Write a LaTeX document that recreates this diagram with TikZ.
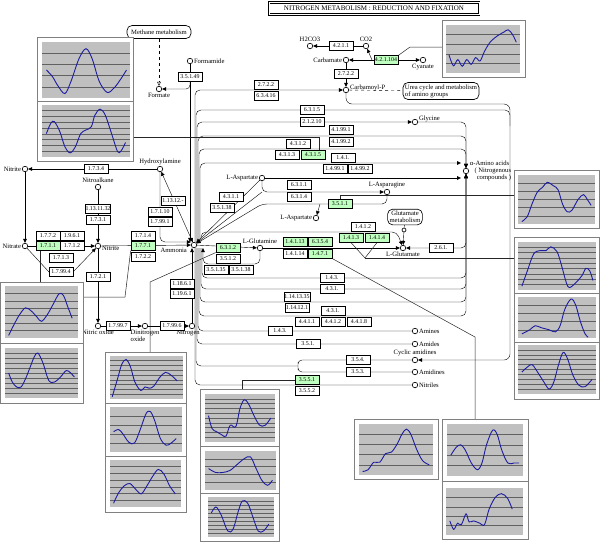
\documentclass[tikz,border=0pt]{standalone}
\usepackage{fontspec}
\setmainfont{Liberation Serif}
\usetikzlibrary{arrows, arrows.meta, shapes, positioning, backgrounds}

\definecolor{keggreen}{HTML}{BFFFBF}
\definecolor{chartgray}{HTML}{C0C0C0}
\definecolor{curveblue}{HTML}{1C1CA0}
\newcommand{\ecfont}{\fontsize{5.9}{6.3}\selectfont}
\newcommand{\cpdfont}{\fontsize{6.6}{7}\selectfont}

% chart panel: x0, y0, x1, y1, grid lines, curve points (0..1, top to bottom)
\newcommand{\chart}[6]{%
  \begin{scope}[shift={(#1,#2)},xscale=#3-#1,yscale=#4-#2]
    \fill[chartgray] (0,0) rectangle (1,1);
    \foreach \k in {1,...,#5} \draw[grid line] (0,{\k/(#5+1)}) -- (1,{\k/(#5+1)});
    \draw[curve line] plot[smooth,tension=0.55] coordinates {#6};
  \end{scope}}

\begin{document}
\begin{tikzpicture}[x=1pt,y=-1pt,>={Triangle[length=4pt,width=3.6pt]},line width=0.65pt,
  cpd node/.style={circle,draw,fill=white,inner sep=0pt,minimum size=5.5pt},
  ec node/.style={rectangle,draw,fill=white,inner sep=0.3pt,minimum width=24pt,minimum height=8.5pt,font=\ecfont},
  ecg node/.style={ec node,fill=keggreen},
  lab/.style={font=\cpdfont,inner sep=0.6pt},
  map node/.style={rectangle,rounded corners=5pt,draw,fill=white,font=\cpdfont,inner sep=2pt},
  thumb frame/.style={draw=black!50,fill=white,line width=0.9pt},
  grid line/.style={black!62,line width=0.6pt},
  curve line/.style={curveblue,line width=0.9pt},
  thumb link/.style={black!85,line width=0.5pt},
  every label/.style={lab}]
\useasboundingbox (0,0) rectangle (600,542);

\node[draw,double,double distance=1pt,line width=0.6pt,font=\fontsize{7}{8}\selectfont,inner sep=1.5pt,minimum width=210pt,minimum height=12pt] (title) at (374,8.5) {NITROGEN METABOLISM : REDUCTION AND FIXATION};

% maps
\node[map node,minimum width=64pt,minimum height=13pt] (methane) at (159,32) {Methane metabolism};
\node[map node,align=left] (urea) at (441,91) {Urea cycle and metabolism\\of amino groups};
\node[map node,align=center] (glumap) at (405,217) {Glutamate\\metabolism};

% compounds
\node[cpd node] (formamide) at (190,61) [label=right:Formamide] {};
\node[cpd node] (formate) at (159,89) [label=below:Formate] {};
\node[cpd node] (hcarb) at (310,46) [label=above:H2CO3] {};
\node[cpd node] (co2) at (366,46) [label=above:CO2] {};
\node[cpd node] (carbamate) at (346,60) [label=left:Carbamate] {};
\node[cpd node] (cyanate) at (423,60) [label=below:Cyanate] {};
\node[cpd node] (carbp) at (346,90) [label={[yshift=2pt]right:Carbamoyl-P}] {};
\node[cpd node] (glycine) at (415,122) [label={[yshift=3pt]right:Glycine}] {};
\node[cpd node] (aminoacid) at (466,171) {};
\node[lab,anchor=west] (aalab) at (469,163) {α-Amino acids};
\node[lab,anchor=north east,align=right] (nclab) at (512,167) {( Nitrogenous\\compounds )};
\node[cpd node] (aspA) at (262,178) [label=left:L-Aspartate] {};
\node[cpd node] (asparagine) at (387,192) [label=above:L-Asparagine] {};
\node[cpd node] (aspB) at (316,218) [label=left:L-Aspartate] {};
\node[cpd node] (glutamine) at (260,248) [label=above:L-Glutamine] {};
\node[cpd node] (glutamate) at (403,248) [label=below:L-Glutamate] {};
\node[cpd node,minimum size=4pt] (glumet) at (404,230) {};
\node[cpd node] (hydroxylamine) at (160,169) [label=above:Hydroxylamine] {};
\node[cpd node] (nitriteA) at (25,169) [label=left:Nitrite] {};
\node[cpd node] (nitrate) at (25,246) [label=left:Nitrate] {};
\node[cpd node] (nitroalkane) at (98,187) [label=above:Nitroalkane] {};
\node[cpd node] (nitriteB) at (98,246) [label={[yshift=-2pt]right:Nitrite}] {};
\node[cpd node] (ammonia) at (194,245) [label={[xshift=-4pt]below left:Ammonia}] {};
\node[cpd node] (nitricoxide) at (98,326) [label=below:Nitric oxide] {};
\node[cpd node] (n2o) at (145,326) [label={[align=left]below:{Dinitrogen\\oxide}}] {};
\node[cpd node] (nitrogen) at (192,326) [label={[xshift=-4pt]below:Nitrogen}] {};
\node[cpd node] (amines) at (415,331) [label=right:Amines] {};
\node[cpd node] (amides) at (415,344) [label=right:Amides] {};
\node[cpd node] (cyclic) at (415,360) [label=above:Cyclic amidines] {};
\node[cpd node] (amidines) at (415,372) [label=right:Amidines] {};
\node[cpd node] (nitriles) at (415,385) [label=right:Nitriles] {};

% enzymes
\foreach \n/\x/\y/\t in {e35149/190/77/3.5.1.49, e2722a/266/85/2.7.2.2, e63416/266/96/6.3.4.16,
  e4211/341/46/4.2.1.1, e2722b/346/74/2.7.2.2, e6315/312/110/6.3.1.5, e21210/312/122/2.1.2.10,
  e41991/341/130/4.1.99.1, e41992/341/142/4.1.99.2, e4312/298/144/4.3.1.2, e4313/287/155/4.3.1.3,
  e141/343/158/1.4.1., e14991/335/169/1.4.99.1, e14992/360/169/1.4.99.2,
  e4311/231/197/4.3.1.1, e35138a/222/208/3.5.1.38, e6311/299/185/6.3.1.1, e6314/299/197/6.3.1.4,
  e3512/228/259/3.5.1.2, e35135/216/270/3.5.1.35, e35138b/241/270/3.5.1.38,
  e14114/295/254/1.4.1.14, e1412/363/227/1.4.1.2, e261/441/248/2.6.1.,
  e143a/332/278/1.4.3., e431a/332/289/4.3.1., e1141335/297/297/1.14.13.35, e114121/297/308/1.14.12.1,
  e431b/333/311/4.3.1., e4411/307/322/4.4.1.1, e4412/333/322/4.4.1.2, e4418/359/322/4.4.1.8,
  e143b/280/331/1.4.3., e351/308/344/3.5.1., e354/358/360/3.5.4., e353/358/372/3.5.3., e3552/307/391/3.5.5.2,
  e1734/96/169/1.7.3.4, e1131132/98/209/1.13.11.32, e1731/98/220/1.7.3.1,
  e1772/48/236/1.7.7.2, e1961/72/236/1.9.6.1, e1712/72/246/1.7.1.2, e1713/61/258/1.7.1.3,
  e17994/61/272/1.7.99.4, e1721/98/277/1.7.2.1, e17997/118/326/1.7.99.7, e17996/172/326/1.7.99.6,
  e1714/143/236/1.7.1.4, e1722/143/257/1.7.2.2, e11312/173/201/1.13.12.-,
  e17110/160/212/1.7.1.10, e17991/160/222/1.7.99.1, e11861/182/284/1.18.6.1, e11961/182/294/1.19.6.1}
  \node[ec node] (\n) at (\x,\y) {\t};
\foreach \n/\x/\y/\t in {e421104/386/60/4.2.1.104, e4315/313/155/4.3.1.5, e3511/340/204/3.5.1.1,
  e6312/228/248/6.3.1.2, e14113/295/242/1.4.1.13, e6354/320/242/6.3.5.4, e1471/320/254/1.4.7.1,
  e1413/351/238/1.4.1.3, e1414/377/238/1.4.1.4, e1711/48/246/1.7.1.1, e1771/143/246/1.7.7.1,
  e3551/307/380/3.5.5.1}
  \node[ecg node] (\n) at (\x,\y) {\t};

\coordinate (fbr) at (190,82);
\coordinate (co2j) at (372,60);
\coordinate (loopa) at (510,104);
\coordinate (loopb) at (510,110);
\coordinate (loopc) at (510,126);
\coordinate (aajA) at (466,136);
\coordinate (aajB) at (466,149);
\coordinate (aahi) at (461,163);
\coordinate (aalo) at (461,178);
\coordinate (asnj) at (262,192);
\coordinate (asnk) at (262,204);
\coordinate (aspj) at (320,204);
\coordinate (glnj) at (203,264);
\coordinate (gluj) at (397,232);
\coordinate (brk) at (298,366);
\coordinate (vj) at (365,258);
\coordinate (tlthumb) at (133,137);
\coordinate (trthumb) at (442,47);
\coordinate (r1thumb) at (514,195);
\coordinate (r2thumb) at (514,258);
\coordinate (blthumb) at (40,282);
\coordinate (blthumbb) at (83,297);
\coordinate (bmthumb) at (150,352);
\coordinate (bcthumb) at (242,389);
\coordinate (brthumb) at (475,419);

\begin{pgfonlayer}{background}
  % formamide, formate
  \draw[->] (formamide) -- (formamide |- ammonia.north);
  \draw[->,rounded corners=4pt] (fbr) |- (formate);
  \draw[dashed,-{Triangle[open,length=4pt,width=3.6pt]}] (methane) -- (formate);
  % carbamate corner
  \draw[->] (co2) -- (hcarb);
  \draw[<->] (cyanate) -- (carbamate);
  \draw[->] (co2j) -- (co2);
  \draw[->] (carbamate) -- (carbp);
  \draw[dashed] (carbp) -- (urea);
  \draw[->,rounded corners=6pt] (carbp) |- (loopa) |- (cyclic);
  % above ammonia
  \draw[->,rounded corners=5pt] ([xshift=1pt]ammonia.north) |- (carbp);
  \draw[rounded corners=5pt] ([xshift=2pt]ammonia.north) |- (loopb) -- (loopc);
  \draw[->,rounded corners=5pt] ([xshift=3pt]ammonia.north) |- (glycine);
  \draw[->,rounded corners=5pt] (glycine) -| (aminoacid.north);
  \draw[->,rounded corners=5pt] ([xshift=4pt]ammonia.north) |- (aajA) -- (aminoacid.north);
  \draw[->,rounded corners=5pt] ([xshift=5pt]ammonia.north) |- (aajB) -- (aminoacid.north);
  \draw[->,rounded corners=5pt] ([xshift=6pt]ammonia.north) |- (aahi);
  \draw[->] (aspA) -- (aalo);
  % aspartate, asparagine
  \draw[->] (aspA) -- (ammonia);
  \draw[->,rounded corners=5pt] (aspA) |- (asparagine);
  \draw (ammonia) -- (asnj);
  \draw[->,rounded corners=5pt] (asparagine) |- (asnk) -- (ammonia);
  \draw[->] (aspj) -- (aspB);
  % glutamine, glutamate
  \draw[->] (ammonia) -- (glutamine);
  \draw[->,rounded corners=5pt] (glutamine) |- (glnj) -- (glnj |- ammonia.south);
  \draw[->] (glutamine) -- (glutamate);
  \draw[->,rounded corners=5pt] ([xshift=7pt]ammonia.north) |- (gluj) -- (glutamate);
  \draw (glumap) -- (glumet);
  \draw[->] (glumet) -- (glutamate);
  \draw[<->,rounded corners=5pt] (glutamate) -| (aminoacid.south);
  % below ammonia
  \foreach \dx/\yy in {8/278, 7/289, 6/302, 5/316}
    {\draw[->,rounded corners=5pt] ([xshift=\dx pt]ammonia.south) |- (466,\yy) -- (aminoacid.south);}
  \draw[rounded corners=5pt] ([xshift=4pt]ammonia.south) |- (amines);
  \draw[rounded corners=5pt] ([xshift=3pt]ammonia.south) |- (amides);
  \draw[rounded corners=5pt] ([xshift=2pt]ammonia.south) |- (brk);
  \draw[rounded corners=4pt] (cyclic) -| (brk) |- (amidines);
  \draw[rounded corners=5pt] ([xshift=1pt]ammonia.south) |- (nitriles);
  % nitrate, nitrite
  \draw[->] (hydroxylamine) -- (nitriteA);
  \draw[->] (nitriteA) -- (nitrate);
  \draw[->] (nitrate) -- (nitriteB);
  \draw[->] (nitrate) -- (49,272) -- (73,272) -- (nitriteB);
  \draw[->] (nitroalkane) -- (nitriteB);
  \draw[->] (nitriteB) -- (nitricoxide);
  \draw[->] (nitriteB) -- (ammonia);
  \draw[->] (nitricoxide) -- (n2o);
  \draw[->] (n2o) -- (nitrogen);
  \draw[->] (nitrogen) -- (nitrogen |- ammonia.south);
  \draw[->,rounded corners=5pt] (hydroxylamine) |- ([yshift=3pt]ammonia.west);
  \draw[<->] (hydroxylamine) -- (ammonia);
  % links to charts
  \draw[thumb link] ([xshift=6pt]e4315.north) |- (tlthumb);
  \draw[thumb link] (e421104.north east) -- (410,47) -- (trthumb);
  \draw[thumb link] (e3511.north) |- (r1thumb);
  \draw[thumb link] (e1413.south) -- (vj) -- (e1414.south);
  \draw[thumb link] (vj) -- (r2thumb);
  \draw[thumb link] ([xshift=-8pt]e1711.south) -- (blthumb);
  \draw[thumb link] (e1771.south west) -- (125,297) -- (blthumbb);
  \draw[thumb link] (e6312.south west) -- (150,282) -- (bmthumb);
  \draw[thumb link] (e3551.west) -| (bcthumb);
  \draw[thumb link] (e1471.south east) -- (475,337) -- (brthumb);
\end{pgfonlayer}

% chart frames
\draw[thumb frame] (37,37) rectangle (133,161);
\draw[thumb frame] (37,101) -- (133,101);
\draw[thumb frame] (442,20) rectangle (525,77);
\draw[thumb frame] (514,170) rectangle (599,228);
\draw[thumb frame] (514,237) rectangle (599,399);
\draw[thumb frame] (514,293) -- (599,293) (514,342) -- (599,342);
\draw[thumb frame] (0,282) rectangle (83,403);
\draw[thumb frame] (0,343) -- (83,343);
\draw[thumb frame] (105,352) rectangle (186,512);
\draw[thumb frame] (105,403) -- (186,403) (105,456) -- (186,456);
\draw[thumb frame] (200,389) rectangle (279,541);
\draw[thumb frame] (200,446) -- (279,446) (200,493) -- (279,493);
\draw[thumb frame] (354,419) rectangle (438,479);
\draw[thumb frame] (442,419) rectangle (528,539);
\draw[thumb frame] (442,481) -- (528,481);

% chart panels
\chart{42}{42}{130}{98}{4}{(0.05,0.5) (0.12,0.62) (0.18,0.78) (0.26,0.92) (0.33,0.7) (0.42,0.3) (0.5,0.12) (0.57,0.3) (0.65,0.7) (0.74,0.9) (0.82,0.82) (0.9,0.65) (0.96,0.5)}
\chart{42}{105}{130}{157}{8}{(0.05,0.55) (0.1,0.35) (0.14,0.32) (0.2,0.5) (0.26,0.8) (0.32,0.92) (0.38,0.8) (0.44,0.55) (0.5,0.48) (0.56,0.42) (0.6,0.2) (0.66,0.08) (0.72,0.2) (0.8,0.6) (0.86,0.9) (0.9,0.88) (0.95,0.72)}
\chart{446}{25}{520}{73}{4}{(0.04,0.62) (0.1,0.85) (0.16,0.72) (0.22,0.86) (0.28,0.72) (0.34,0.82) (0.4,0.68) (0.46,0.75) (0.52,0.55) (0.6,0.35) (0.7,0.22) (0.78,0.15) (0.84,0.1) (0.9,0.2) (0.95,0.36)}
\chart{518}{175}{595}{224}{5}{(0.05,0.95) (0.12,0.85) (0.18,0.6) (0.25,0.35) (0.32,0.25) (0.38,0.15) (0.46,0.22) (0.52,0.3) (0.58,0.6) (0.64,0.75) (0.7,0.72) (0.78,0.5) (0.85,0.4) (0.9,0.5) (0.95,0.62)}
\chart{518}{242}{596}{290}{8}{(0.05,0.92) (0.12,0.6) (0.2,0.25) (0.28,0.18) (0.36,0.18) (0.42,0.1) (0.5,0.2) (0.56,0.5) (0.62,0.85) (0.66,0.95) (0.74,0.85) (0.82,0.7) (0.87,0.55) (0.92,0.6) (0.96,0.8)}
\chart{518}{297}{596}{338}{4}{(0.05,0.9) (0.15,0.8) (0.22,0.7) (0.3,0.75) (0.4,0.8) (0.48,0.85) (0.54,0.7) (0.6,0.3) (0.68,0.05) (0.74,0.2) (0.8,0.6) (0.86,0.9) (0.9,0.98)}
\chart{518}{345}{596}{394}{9}{(0.05,0.55) (0.12,0.45) (0.18,0.4) (0.25,0.55) (0.33,0.75) (0.4,0.9) (0.46,0.75) (0.52,0.4) (0.58,0.15) (0.64,0.3) (0.7,0.6) (0.78,0.82) (0.86,0.85) (0.95,0.7)}
\chart{5}{286}{78}{338}{6}{(0.05,0.95) (0.12,0.75) (0.2,0.55) (0.28,0.42) (0.36,0.48) (0.44,0.6) (0.5,0.68) (0.58,0.55) (0.66,0.35) (0.74,0.15) (0.8,0.18) (0.86,0.4) (0.92,0.62)}
\chart{5}{348}{78}{398}{9}{(0.05,0.5) (0.1,0.68) (0.16,0.78) (0.22,0.78) (0.28,0.62) (0.34,0.4) (0.4,0.18) (0.45,0.1) (0.52,0.3) (0.6,0.65) (0.68,0.68) (0.76,0.58) (0.84,0.45) (0.9,0.5) (0.95,0.58)}
\chart{110}{356}{183}{399}{8}{(0.03,0.95) (0.1,0.55) (0.16,0.2) (0.22,0.08) (0.28,0.25) (0.34,0.6) (0.42,0.8) (0.48,0.72) (0.54,0.75) (0.6,0.7) (0.68,0.5) (0.76,0.38) (0.84,0.45) (0.92,0.58)}
\chart{110}{407}{182}{452}{4}{(0.05,0.55) (0.12,0.5) (0.18,0.6) (0.26,0.78) (0.34,0.8) (0.42,0.5) (0.5,0.15) (0.56,0.1) (0.62,0.3) (0.7,0.7) (0.78,0.85) (0.85,0.8) (0.92,0.7)}
\chart{110}{460}{181}{507}{6}{(0.05,0.92) (0.12,0.7) (0.2,0.55) (0.28,0.5) (0.36,0.62) (0.44,0.72) (0.52,0.55) (0.6,0.35) (0.68,0.2) (0.76,0.3) (0.84,0.55) (0.92,0.72)}
\chart{205}{394}{275}{442}{9}{(0.05,0.45) (0.1,0.72) (0.16,0.78) (0.24,0.85) (0.3,0.88) (0.36,0.65) (0.44,0.68) (0.5,0.3) (0.56,0.12) (0.62,0.2) (0.7,0.45) (0.78,0.65) (0.86,0.65) (0.94,0.5)}
\chart{205}{451}{276}{490}{4}{(0.05,0.45) (0.15,0.55) (0.25,0.55) (0.35,0.5) (0.45,0.35) (0.55,0.2) (0.64,0.15) (0.72,0.45) (0.8,0.75) (0.88,0.88) (0.95,0.75)}
\chart{208}{497}{274}{537}{9}{(0.05,0.4) (0.12,0.25) (0.2,0.45) (0.3,0.85) (0.38,0.8) (0.46,0.35) (0.52,0.1) (0.6,0.15) (0.68,0.5) (0.76,0.85) (0.84,0.85) (0.92,0.68)}
\chart{359}{424}{433}{475}{4}{(0.05,0.93) (0.12,0.9) (0.2,0.75) (0.28,0.75) (0.36,0.58) (0.44,0.55) (0.52,0.38) (0.58,0.2) (0.64,0.1) (0.7,0.2) (0.78,0.5) (0.86,0.72) (0.95,0.8)}
\chart{447}{424}{523}{476}{4}{(0.05,0.6) (0.12,0.45) (0.18,0.4) (0.24,0.5) (0.32,0.75) (0.4,0.88) (0.46,0.75) (0.52,0.4) (0.6,0.12) (0.66,0.2) (0.72,0.5) (0.8,0.75) (0.88,0.75) (0.95,0.75)}
\chart{446}{488}{523}{535}{4}{(0.05,0.7) (0.1,0.88) (0.15,0.75) (0.2,0.78) (0.26,0.55) (0.3,0.72) (0.36,0.7) (0.44,0.75) (0.5,0.78) (0.56,0.45) (0.64,0.2) (0.72,0.12) (0.8,0.22) (0.86,0.45)}
\end{tikzpicture}
\end{document}
